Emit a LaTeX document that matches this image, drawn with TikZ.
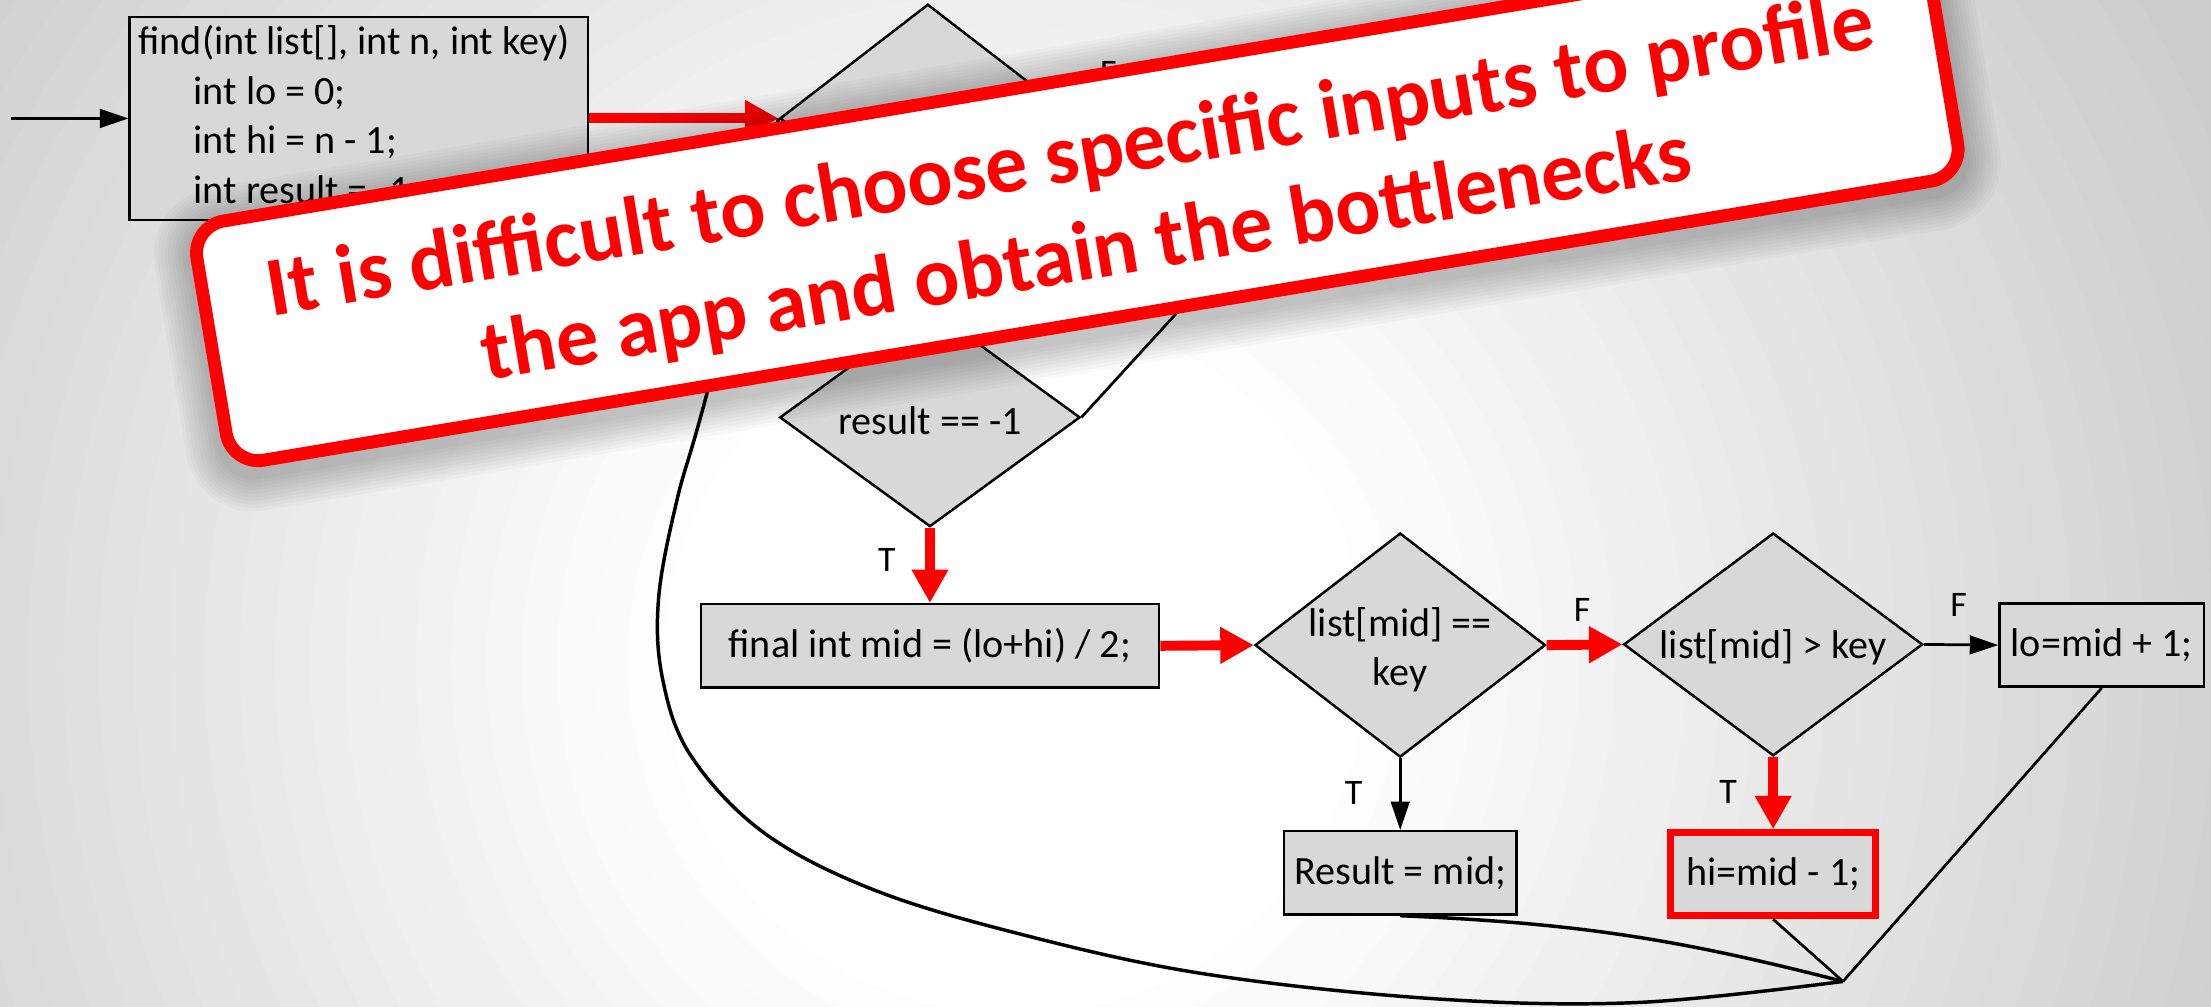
\documentclass[tikz,border=0pt]{standalone}
\usepackage{fontspec}
\setmainfont{Carlito}
\usetikzlibrary{arrows.meta,shapes.geometric}
\definecolor{bgdark}{RGB}{204,204,204}
\definecolor{boxgray}{RGB}{216,216,216}
\newcommand{\flowfont}{\fontsize{16.2}{19.9}\selectfont}
\newcommand{\lblfont}{\fontsize{14.5}{17}\selectfont}
\newcommand{\bannerfont}{\fontsize{34}{40}\selectfont\bfseries}
\newcommand{\ulen}{0.02cm}

\begin{document}
\begin{tikzpicture}[x=0.02cm,y=-0.02cm,
  flowbox/.style={rectangle, draw=black, line width=1pt, fill=boxgray, inner sep=0pt, font=\flowfont},
  decision/.style={diamond, draw=black, line width=1pt, fill=boxgray, inner sep=0pt},
  ftext/.style={font=\flowfont, inner sep=0pt},
  redarrow/.style={draw=red, line width=4pt, -{Triangle[length=13.5pt,width=14pt]}},
  blackarrow/.style={draw=black, line width=1.1pt, -{Triangle[length=11.5pt,width=7.5pt]}},
  conn/.style={draw=black, line width=1.1pt},
  lbl/.style={font=\lblfont, inner sep=0pt},
  ]

\useasboundingbox (0,0) rectangle (1568,714);

% background gradient
\begin{scope}
\clip (0,0) rectangle (1568,714);
\fill[bgdark] (0,0) rectangle (1568,714);
\foreach \r in {1000,975,...,250} {
  \pgfmathsetmacro\p{max(0,min(100,(950-\r)/7))}
  \fill[white!\p!bgdark] (720,470) circle[radius=\r];
}
\end{scope}

% nodes
\node[flowbox, minimum width=325*\ulen, minimum height=144*\ulen] (box1) at (254.5,84) {};
\node[ftext, anchor=base west] (l1) at (98,39) {find(int list[], int n, int key)};
\node[ftext, anchor=base west] (l2) at (137,74) {int lo = 0;};
\node[ftext, anchor=base west] (l3) at (137,109) {int hi = n - 1;};
\node[ftext, anchor=base west] (l4) at (137,144) {int result = -1;};

\node[decision, minimum width=210*\ulen, minimum height=162*\ulen] (d1) at (658,84) {};
\node[decision, minimum width=213*\ulen, minimum height=155*\ulen] (d0) at (659.5,296) {};
\node[ftext] (t0) at (659.5,298) {result == -1};
\node[flowbox, minimum width=325*\ulen, minimum height=59*\ulen] (mid) at (659.5,458) {final int mid = (lo+hi) / 2;};
\node[decision, minimum width=206*\ulen, minimum height=159*\ulen] (d2) at (993,457.5) {};
\node[ftext, align=center] (t2) at (993,461) {list[mid] ==\\key};
\node[decision, minimum width=212*\ulen, minimum height=158*\ulen] (d3) at (1257.5,457) {};
\node[ftext] (t3) at (1257.5,459) {list[mid] > key};
\node[flowbox, minimum width=145*\ulen, minimum height=59*\ulen] (lo) at (1490.5,457.5) {lo=mid + 1;};
\node[flowbox, minimum width=165*\ulen, minimum height=59*\ulen] (res) at (993,619) {Result = mid;};
\node[flowbox, draw=red, line width=2.8pt, minimum width=145*\ulen, minimum height=59*\ulen] (hi) at (1257.5,620) {hi=mid - 1;};

\coordinate (start) at (8,84);
\coordinate (merge) at (1307,696);
\coordinate (exitm) at (850,205);

% connectors
\draw[blackarrow] (start) -- (box1.west);
\draw[redarrow] (box1.east) -- (d1.west);
\draw[redarrow] (d1.south) -- (d0.north);
\draw[conn] (d1.east) -- (exitm);
\draw[conn] (d0.east) -- (exitm);
\draw[redarrow] (d0.south) -- (mid.north);
\draw[redarrow] (mid.east) -- (d2.west);
\draw[redarrow] (d2.east) -- (d3.west);
\draw[blackarrow] (d3.east) -- (lo.west);
\draw[blackarrow] (d2.south) -- (res.north);
\draw[redarrow] (d3.south) -- (hi.north);
\draw[conn, line width=1.4pt] (res.south) to[bend left=6] (merge);
\draw[conn] (hi.south) -- (merge);
\draw[conn] (lo.south) -- (merge);
\draw[conn, line width=1.4pt] plot[smooth, tension=0.6] coordinates {(merge) (1160,711) (1013,708) (850,690) (718,661) (617,630) (541,590) (490,536) (470,482) (467,425) (480,355) (500,284) (d1.west)};

% labels
\node[lbl] (fF0) at (786,52) {F};
\node[lbl] (fT0) at (629,397) {T};
\node[lbl] (fT1) at (960,562.5) {T};
\node[lbl] (fT2) at (1225.5,561.5) {T};
\node[lbl] (fF1) at (1122,432.5) {F};
\node[lbl] (fF2) at (1389,429) {F};

% banner shadow
\begin{scope}[shift={(764,148)}, rotate=9.5]
\foreach \k in {1,...,10} {
  \pgfmathsetmacro\rc{(23+2.5*\k)*0.02}
  \fill[black, opacity=0.025, rounded corners=\rc cm] (-627-2.5*\k,-91-2.5*\k) rectangle (627+2.5*\k,91+2.5*\k);
}
\end{scope}

% banner
\node[draw=red, line width=5.2pt, fill=white, rounded corners=0.46cm, rotate=9.5,
      minimum width=1245*\ulen, minimum height=172*\ulen, inner sep=0pt] (banner) at (764,142.6) {};
\node[font=\bannerfont, text=red, align=center, rotate=9.5, inner sep=0pt] (btext) at (764.8,147.5)
  {It is difficult to choose specific inputs to profile\\the app and obtain the bottlenecks};

\end{tikzpicture}
\end{document}
